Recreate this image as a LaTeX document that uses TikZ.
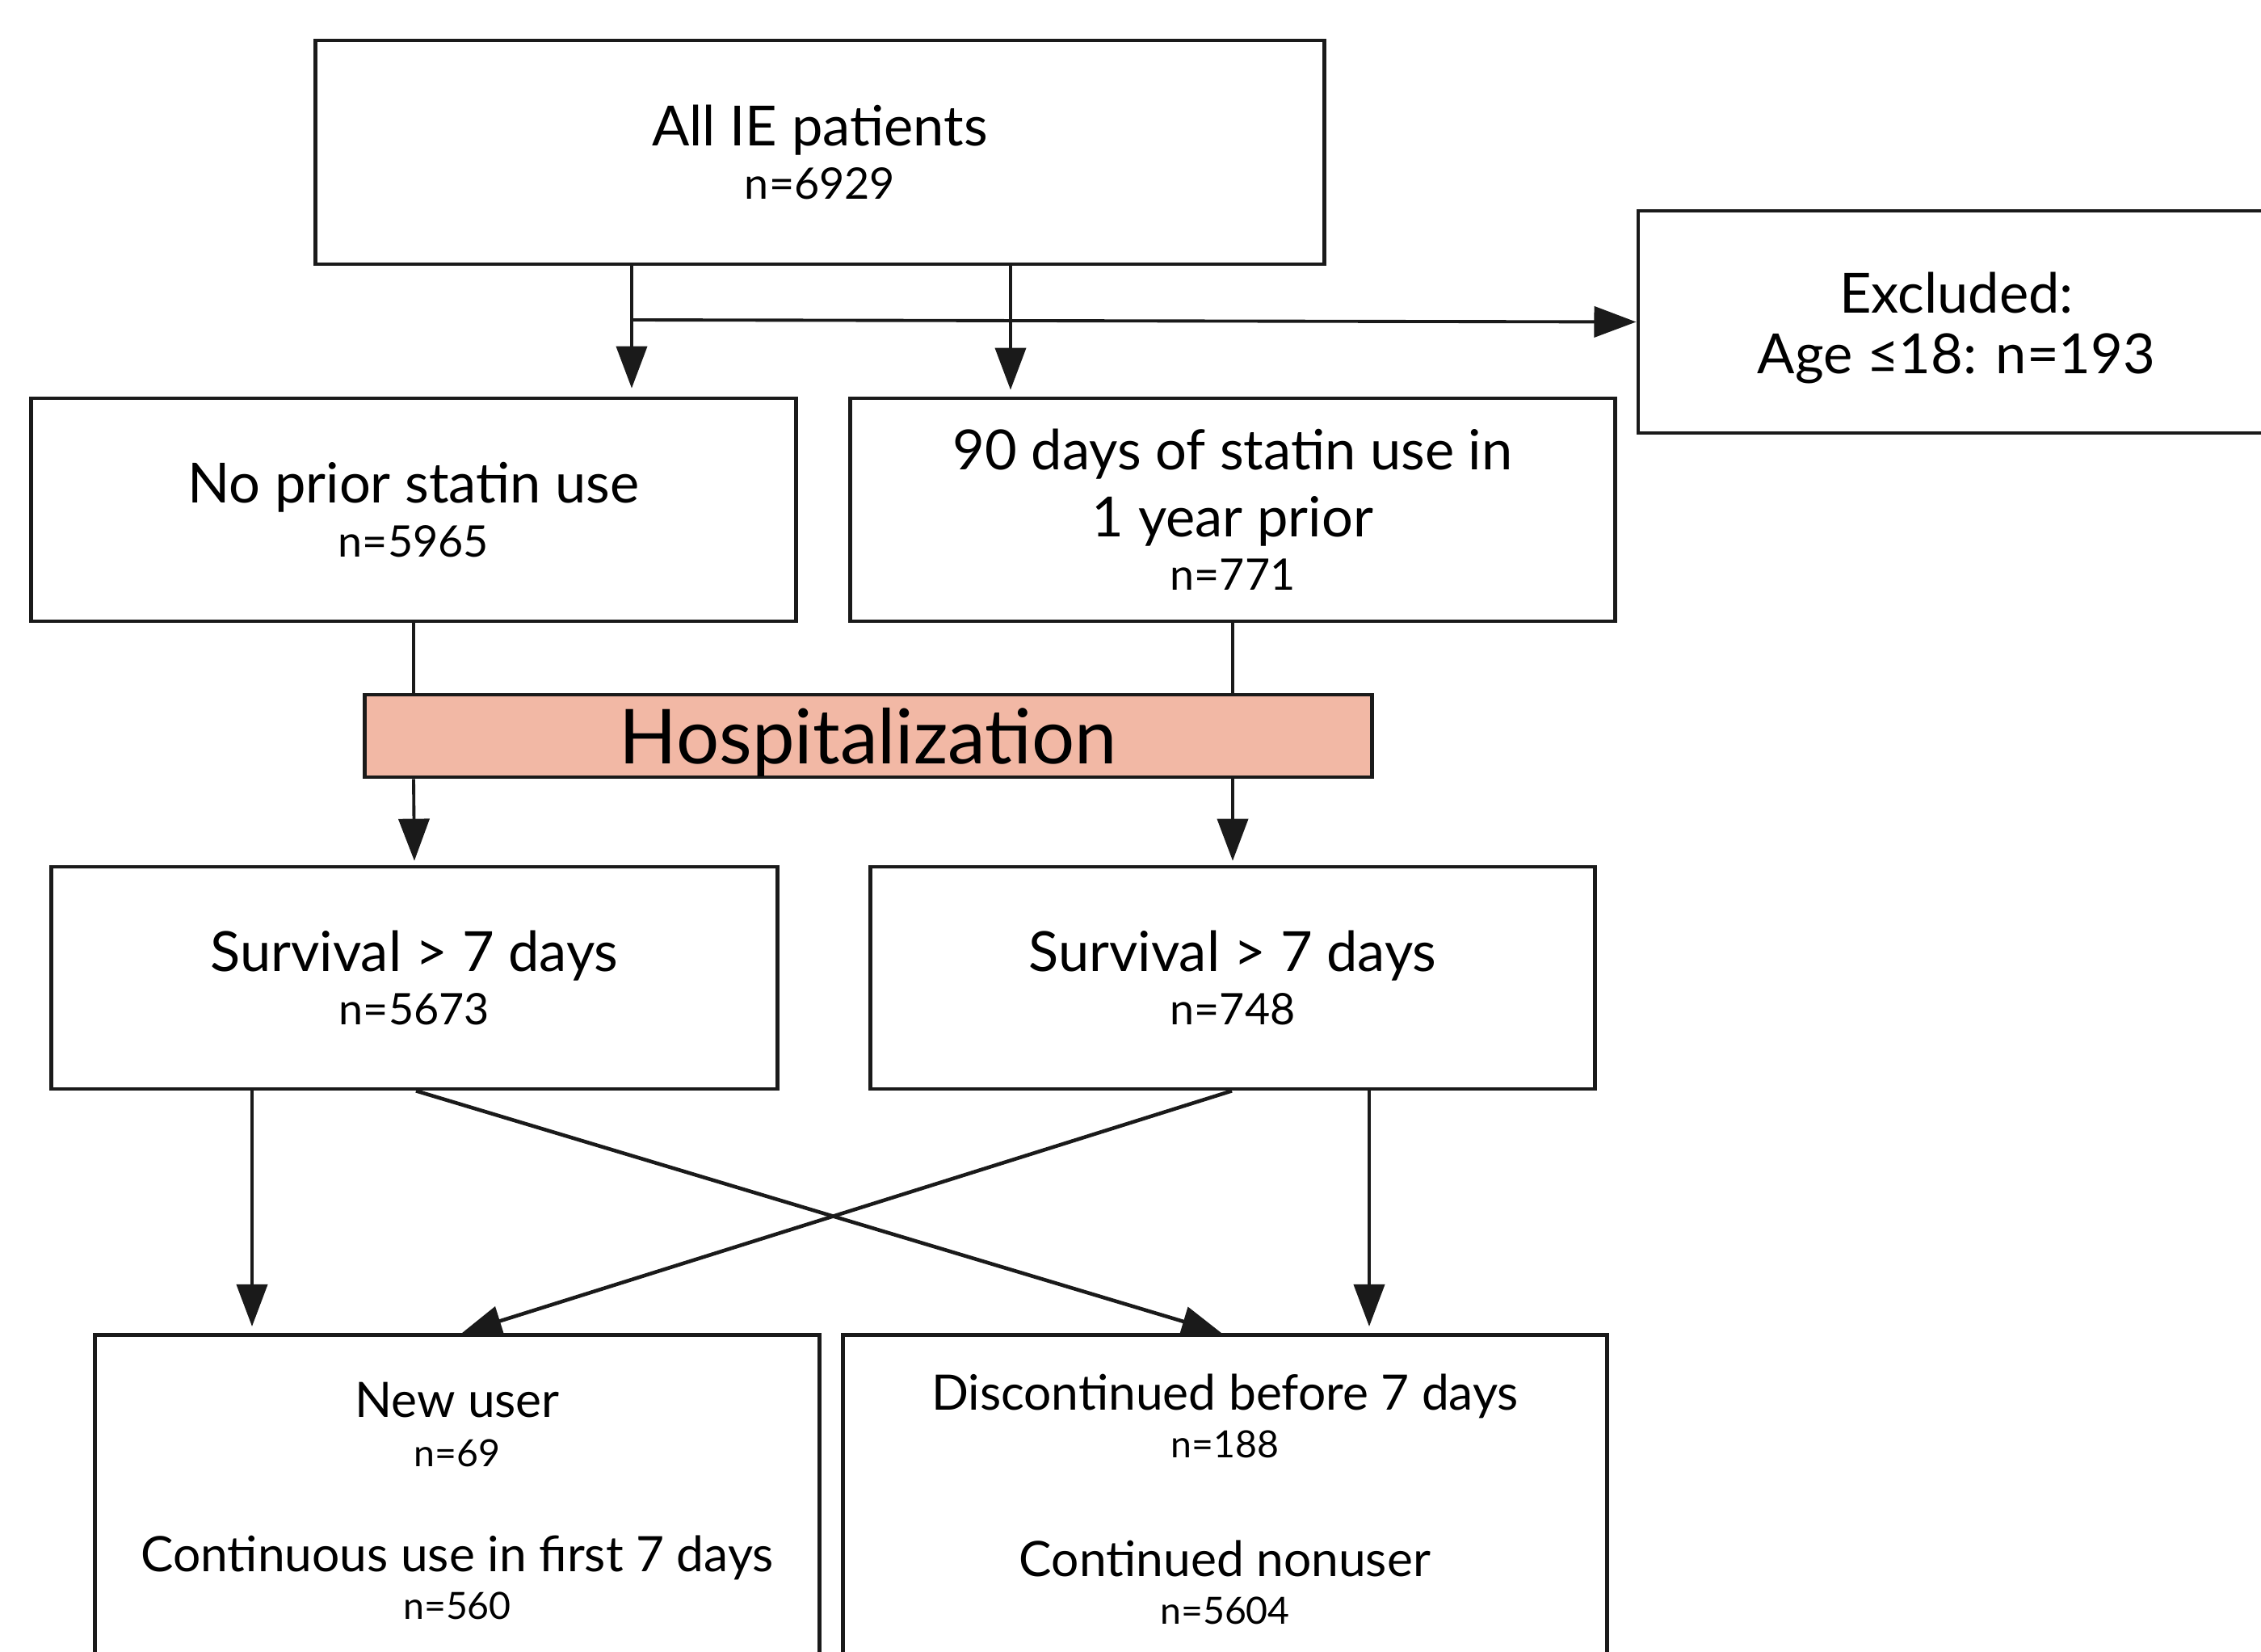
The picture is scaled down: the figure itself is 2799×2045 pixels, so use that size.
\documentclass[tikz,border=0pt]{standalone}
\usepackage{fontspec}
\setmainfont{Lato}
\usetikzlibrary{arrows.meta,calc}
\definecolor{hospfill}{RGB}{242,184,165}
\definecolor{ink}{RGB}{26,26,26}
\tikzset{
  box/.style={draw=ink, line width=1.3pt, fill=white, inner sep=0pt, align=center, text=black},
  big/.style={font=\fontsize{19.5}{23.5}\selectfont},
  conn/.style={draw=ink, line width=1.1pt},
  arr/.style={conn, -{Triangle[length=0.52cm,width=0.38cm]}},
  lowtxt/.style={font=\fontsize{17.2}{20}\selectfont, anchor=base},
  lown/.style={font=\fontsize{13.2}{16}\selectfont, anchor=base},
}
\newcommand{\nline}[1]{\\[-4.5pt]{\fontsize{15.3}{18}\selectfont #1}}
\begin{document}
\begin{tikzpicture}[x=0.01cm,y=-0.01cm]
\useasboundingbox (0,0) rectangle (2799,2045);

% boxes
\node[box, big, minimum width=12.48cm, minimum height=2.77cm] (top) at (1015,188.5)
  {All IE patients\nline{n=6929}};
\node[box, minimum width=7.88cm, minimum height=2.75cm] (excl) at (2422,398.5) {};
\node[big, align=center] (excltext) at (2422,406) {Excluded:\\[-2pt]Age ≤18: n=193};
\node[box, big, minimum width=9.46cm, minimum height=2.76cm] (noprior) at (512,631)
  {No prior statin use\nline{n=5965}};
\node[box, big, minimum width=9.46cm, minimum height=2.76cm] (prior) at (1526,631)
  {90 days of statin use in\\[0pt]1 year prior\nline{n=771}};
\node[box, fill=hospfill, minimum width=12.46cm, minimum height=1.02cm, text depth=0pt,
      font=\fontsize{26.7}{32}\selectfont] (hosp) at (1075,911) {Hospitalization};
\node[box, big, minimum width=8.98cm, minimum height=2.75cm] (survL) at (513,1210.5)
  {Survival > 7 days\nline{n=5673}};
\node[box, big, minimum width=8.96cm, minimum height=2.75cm] (survR) at (1526,1210.5)
  {Survival > 7 days\nline{n=748}};
\node[box, minimum width=8.96cm, minimum height=4.7cm, anchor=north] (botL) at (566,1650) {};
\node[box, minimum width=9.45cm, minimum height=4.7cm, anchor=north] (botR) at (1516.5,1650) {};

% bottom texts
\node[lowtxt] (newuser) at (566,1754) {New user};
\node[lown] (n69) at (566,1815) {n=69};
\node[lowtxt] (contuse) at (566,1945) {Continuous use in first 7 days};
\node[lown] (n560) at (566,2004) {n=560};
\node[lowtxt] (discont) at (1516.5,1745) {Discontinued before 7 days};
\node[lown] (n188) at (1516.5,1804) {n=188};
\node[lowtxt] (nonuser) at (1516.5,1951) {Continued nonuser};
\node[lown] (n5604) at (1516.5,2010) {n=5604};

% connectors top
\coordinate (split) at (782,396);
\draw[arr, shorten >=0.1cm] (782,0 |- top.south) -- (782,0 |- noprior.north);
\draw[arr, shorten >=0.08cm] (1251,0 |- top.south) -- (1251,0 |- prior.north);
\draw[arr] (split) -- (excl.west);

% through hospitalization
\draw[conn] (noprior.south) -- (noprior.south |- hosp.north);
\draw[conn] (prior.south) -- (prior.south |- hosp.north);
\draw[arr, shorten >=0.05cm] (noprior.south |- hosp.south) -- (survL.north);
\draw[arr, shorten >=0.05cm] (prior.south |- hosp.south) -- (survR.north);

% bottom
\coordinate (tipR) at (1512,1650);
\coordinate (tipL) at (572,1650);
\draw[arr, shorten >=0.08cm] (312,0 |- survL.south) -- (312,0 |- botL.north);
\draw[arr, shorten >=0.08cm] (1695,0 |- survR.south) -- (1695,0 |- botR.north);
\draw[arr, line width=1.3pt, -{Triangle[length=0.49cm,width=0.37cm]}] (515,0 |- survL.south) -- (tipR);
\draw[arr, line width=1.3pt, -{Triangle[length=0.49cm,width=0.37cm]}] (1525,0 |- survR.south) -- (tipL);
\end{tikzpicture}
\end{document}
